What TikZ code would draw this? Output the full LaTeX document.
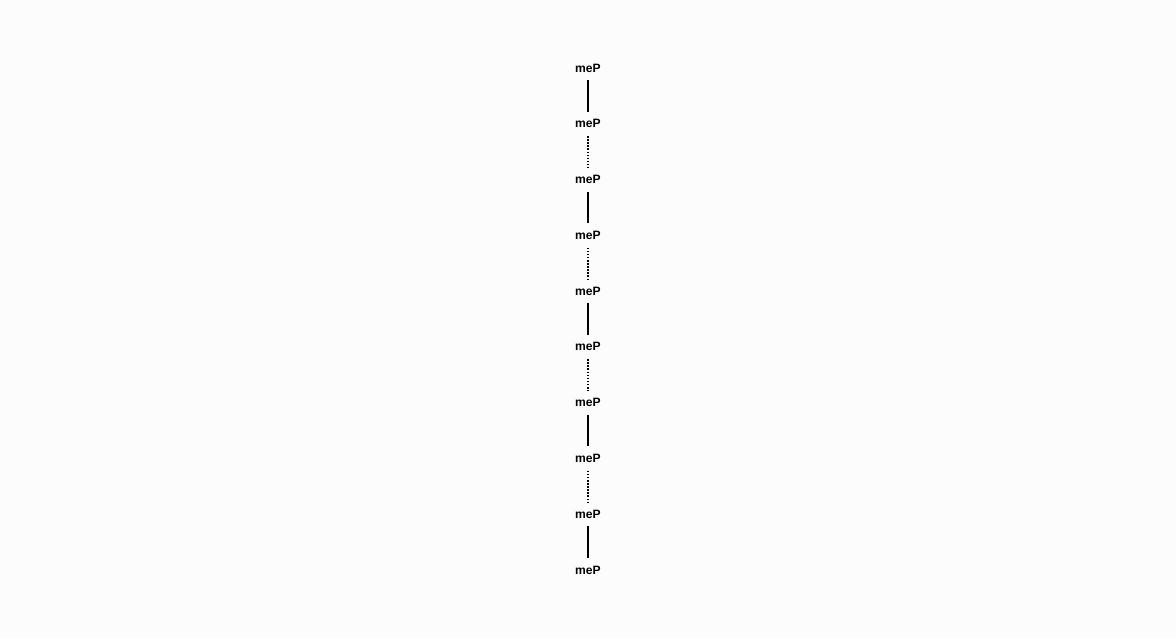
\documentclass[tikz,border=0pt]{standalone}
\usepackage{fontspec}
\setmainfont{Liberation Sans}
\usetikzlibrary{positioning}
\definecolor{pagebg}{RGB}{252, 252, 252}
\definecolor{linktext}{RGB}{0, 0, 0}

\begin{document}
\begin{tikzpicture}[
    font=\fontsize{8.6}{10}\selectfont\bfseries,
    termbox/.style={
        rectangle, inner sep=0pt, minimum height=0.6cm,
        align=center, text=linktext
    },
    solidlink/.style={line width=1.1pt, draw=linktext},
    dottedlink/.style={line width=0.8pt, draw=linktext, dash pattern=on 1.1pt off 1.1pt}
]

% Fond et cadre
\fill[pagebg] (0, 0) rectangle (29.4, -15.95);
\useasboundingbox (0, 0) rectangle (29.4, -15.95);

% Noeuds de la chaine
\foreach \i in {0,...,9} {
    \node[termbox] (term\i) at (14.7, -1.7 - 1.3944*\i) {meP};
}

% Liaisons alternees
\foreach \i [evaluate=\i as \j using int(\i+1)] in {0,...,8} {
    \ifodd\i
        \draw[dottedlink] (term\i.south) -- (term\j.north);
    \else
        \draw[solidlink] (term\i.south) -- (term\j.north);
    \fi
}

\end{tikzpicture}
\end{document}
